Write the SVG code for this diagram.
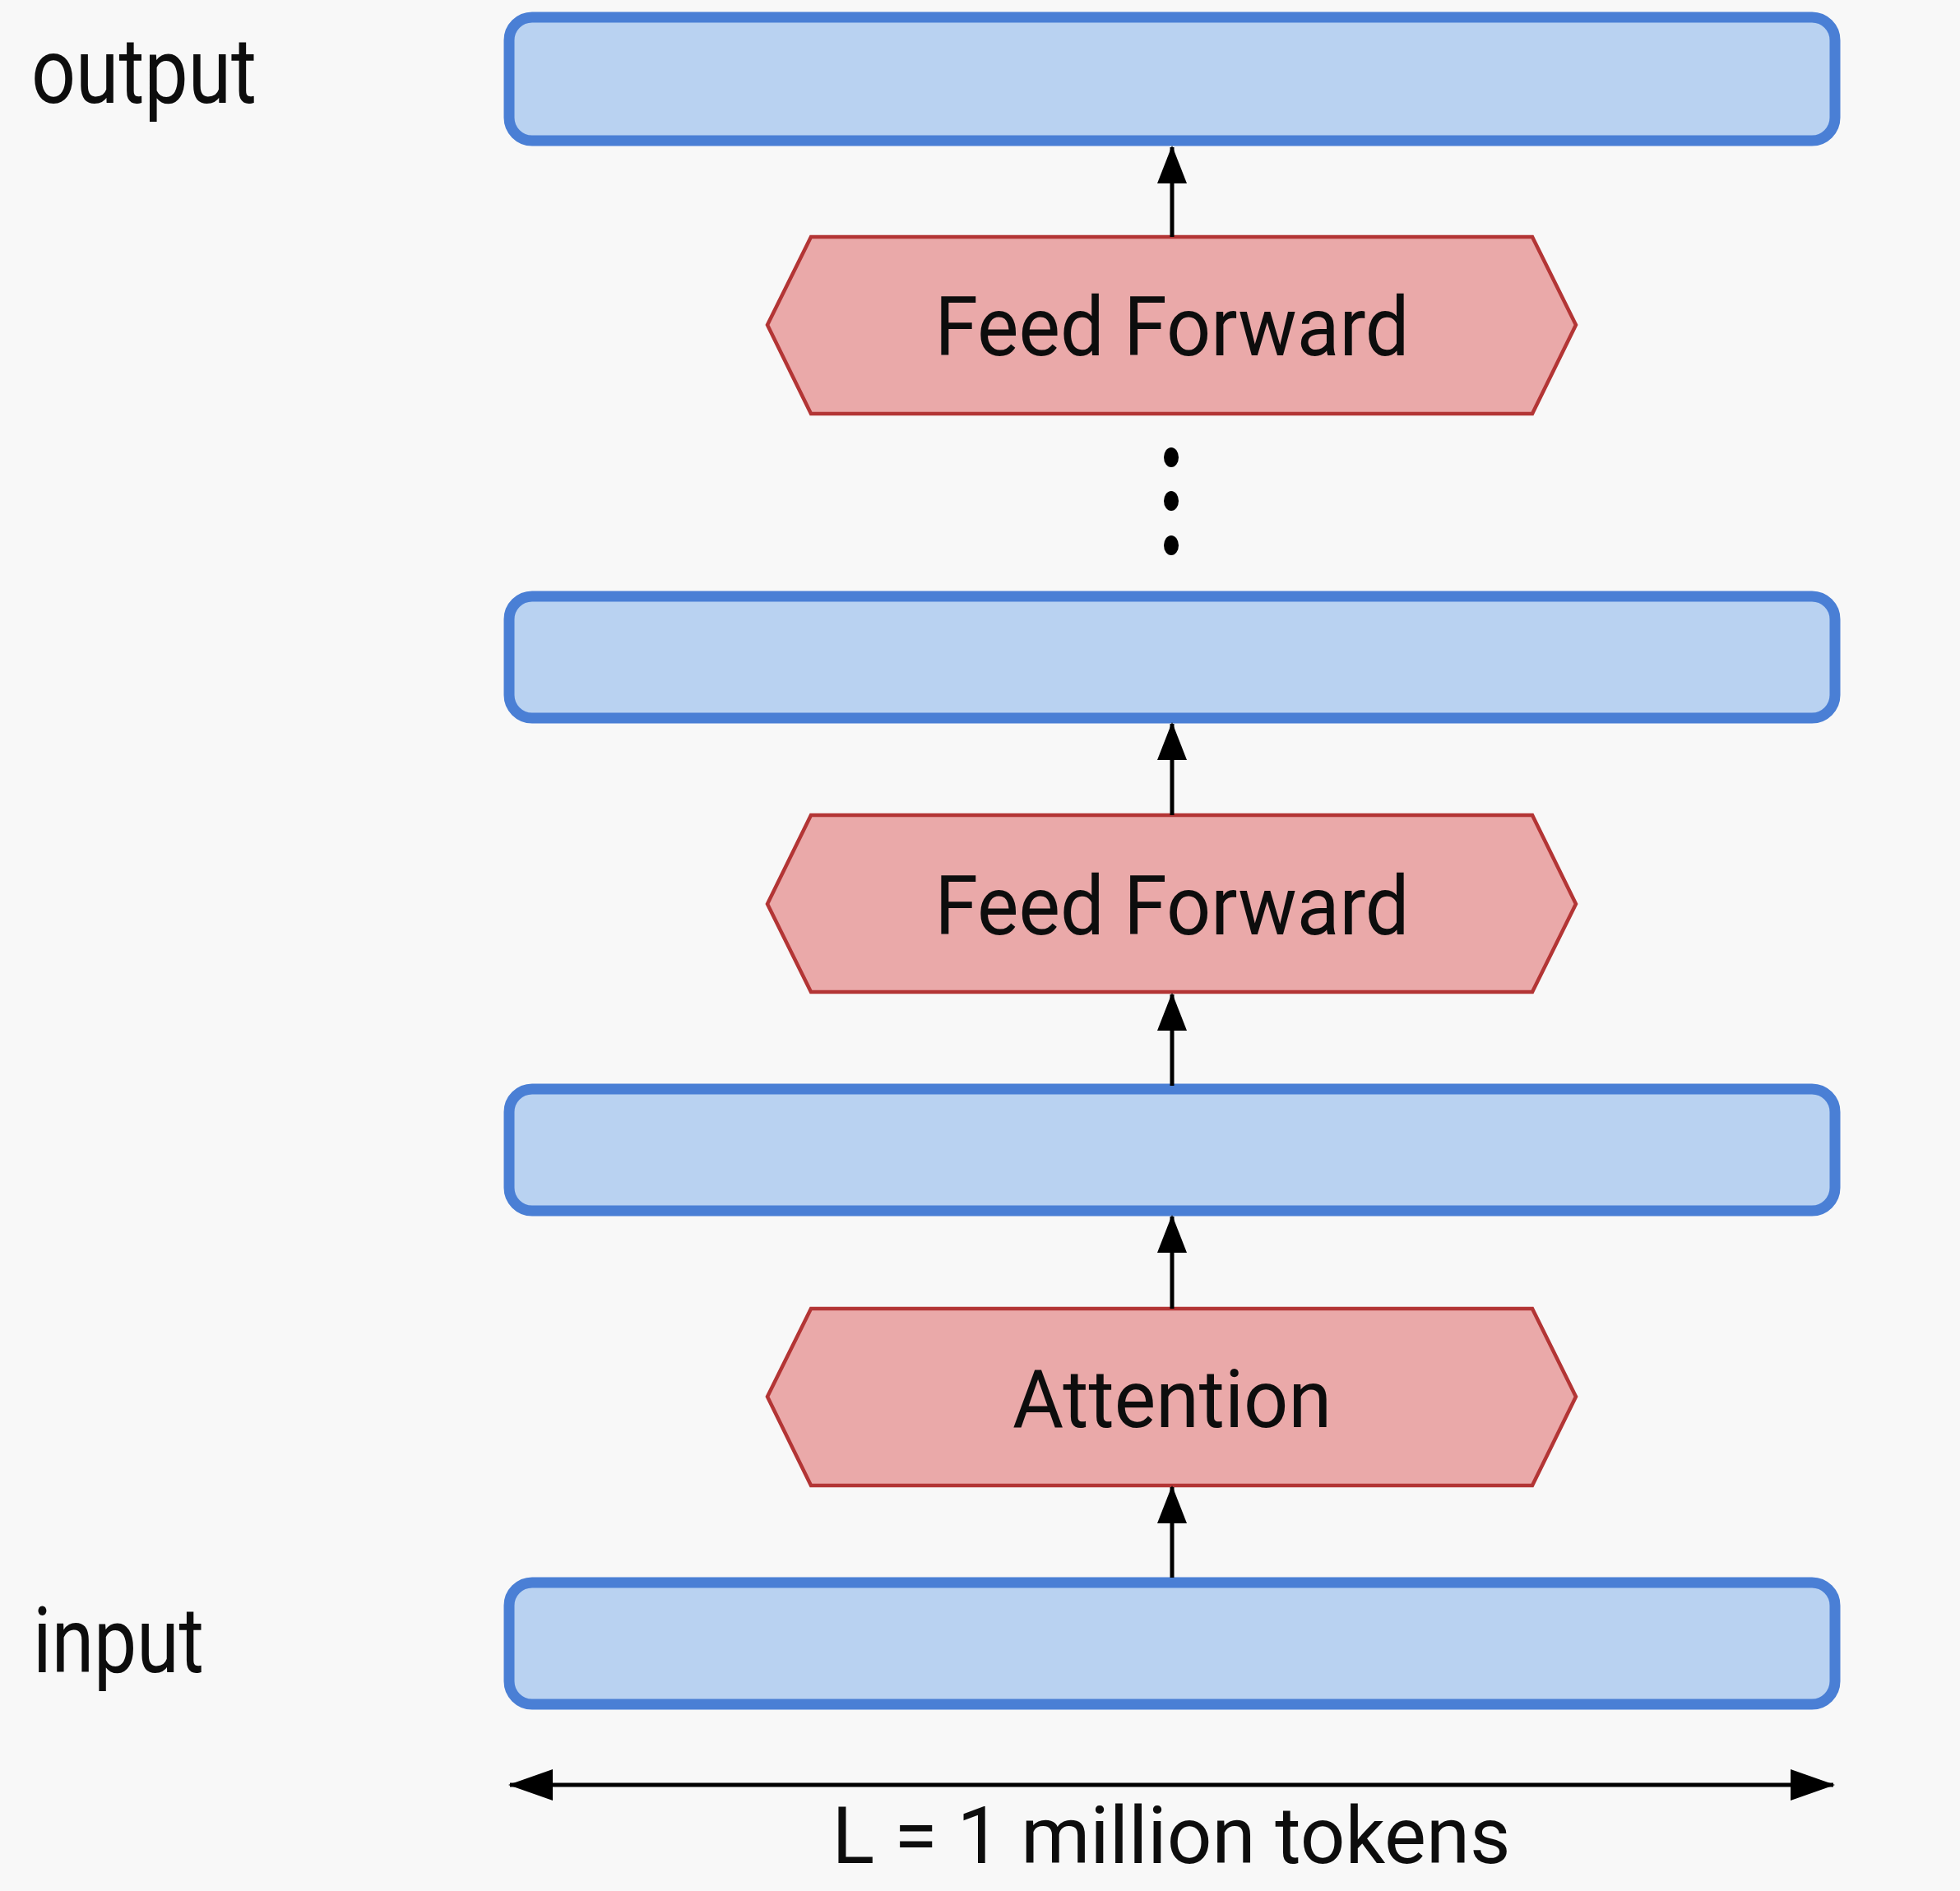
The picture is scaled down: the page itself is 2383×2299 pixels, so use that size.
<svg xmlns="http://www.w3.org/2000/svg" width="2383" height="2299" viewBox="0 0 2383 2299">
  <style>
    .bar { fill: #b9d2f1; stroke: #4a7fd5; stroke-width: 13; }
    .hex { fill: #eaa9a9; stroke: #b33535; stroke-width: 4.5; stroke-linejoin: miter; }
    .lbl { font-family: Roboto, "Liberation Sans", sans-serif; fill: #0d0d0d; }
    .mid { text-anchor: middle; }
    .wire { stroke: #000; stroke-width: 5; fill: none; }
  </style>
  <defs>
    <marker id="head" markerUnits="userSpaceOnUse" markerWidth="54" markerHeight="40" viewBox="0 0 54 40" refX="52" refY="20" orient="auto-start-reverse">
      <path d="M0,1 L54,20 L0,39 Z" fill="#000"/>
    </marker>
    <marker id="headV" markerUnits="userSpaceOnUse" markerWidth="46" markerHeight="38" viewBox="0 0 46 38" refX="44" refY="19" orient="auto">
      <path d="M0,1 L46,19 L0,37 Z" fill="#000"/>
    </marker>
  </defs>

  <rect width="2383" height="2299" fill="#f8f8f8"/>

  <!-- side labels -->
  <text id="label-output" class="lbl" x="38" y="125" font-size="112" textLength="274" lengthAdjust="spacingAndGlyphs">output</text>
  <text id="label-input" class="lbl" x="40" y="2033" font-size="112" textLength="208" lengthAdjust="spacingAndGlyphs">input</text>

  <!-- token bars -->
  <g id="bar-output"><rect class="bar" x="619" y="21" width="1612" height="150" rx="28"/></g>
  <g id="bar-2"><rect class="bar" x="619" y="725" width="1612" height="148" rx="28"/></g>
  <g id="bar-1"><rect class="bar" x="619" y="1324" width="1612" height="148" rx="28"/></g>
  <g id="bar-input"><rect class="bar" x="619" y="1924" width="1612" height="148" rx="28"/></g>

  <!-- layer blocks -->
  <g id="ff-top">
    <polygon class="hex" points="986,288 1863,288 1916,395 1863,503 986,503 933,395"/>
    <text class="lbl mid" x="1425" y="432" font-size="101" textLength="577" lengthAdjust="spacingAndGlyphs">Feed Forward</text>
  </g>
  <g id="ff-1">
    <polygon class="hex" points="986,991 1863,991 1916,1099 1863,1206 986,1206 933,1099"/>
    <text class="lbl mid" x="1425" y="1136" font-size="101" textLength="577" lengthAdjust="spacingAndGlyphs">Feed Forward</text>
  </g>
  <g id="attention">
    <polygon class="hex" points="986,1591 1863,1591 1916,1698 1863,1806 986,1806 933,1698"/>
    <text class="lbl mid" x="1425" y="1735" font-size="99" textLength="388" lengthAdjust="spacingAndGlyphs">Attention</text>
  </g>

  <!-- ellipsis between layers -->
  <g id="ellipsis" fill="#000">
    <ellipse cx="1424" cy="556" rx="9" ry="12"/>
    <ellipse cx="1424" cy="609" rx="9" ry="12"/>
    <ellipse cx="1424" cy="663" rx="9" ry="12"/>
  </g>

  <!-- connectors -->
  <g id="connectors">
    <line class="wire" x1="1425" y1="288" x2="1425" y2="179" marker-end="url(#headV)"/>
    <line class="wire" x1="1425" y1="991" x2="1425" y2="880" marker-end="url(#headV)"/>
    <line class="wire" x1="1425" y1="1320" x2="1425" y2="1209" marker-end="url(#headV)"/>
    <line class="wire" x1="1425" y1="1591" x2="1425" y2="1479" marker-end="url(#headV)"/>
    <line class="wire" x1="1425" y1="1918" x2="1425" y2="1808" marker-end="url(#headV)"/>
    <line class="wire" x1="620" y1="2170" x2="2229" y2="2170" marker-start="url(#head)" marker-end="url(#head)"/>
  </g>

  <text id="length-label" class="lbl mid" x="1424" y="2265" font-size="96" textLength="825" lengthAdjust="spacingAndGlyphs">L = 1 million tokens</text>
</svg>
